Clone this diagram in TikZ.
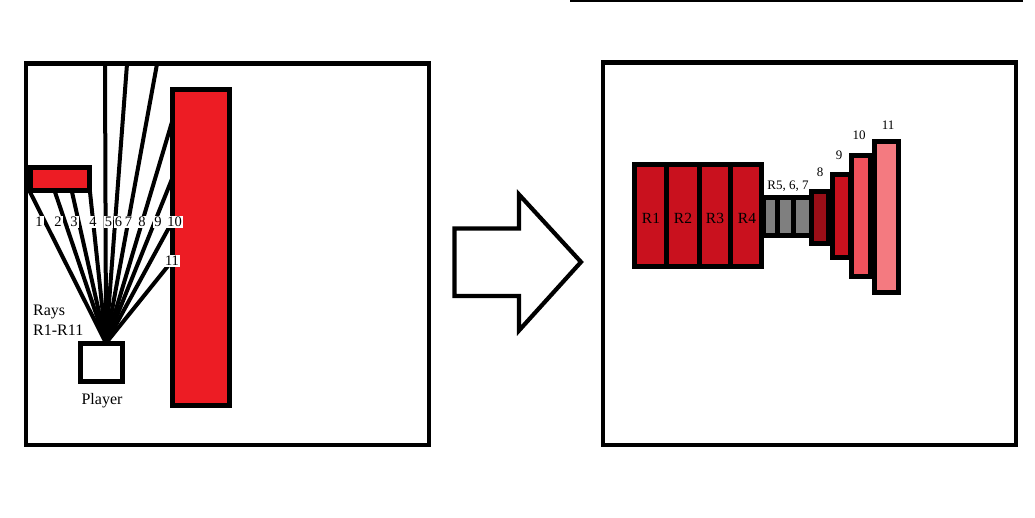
\documentclass[tikz,border=0pt]{standalone}
\usepackage{fontspec}
\setmainfont{Liberation Serif}
\definecolor{pred}{RGB}{237,28,36}
\definecolor{cellred}{RGB}{201,17,30}
\definecolor{darkred}{RGB}{153,14,23}
\definecolor{midpink}{RGB}{240,82,92}
\definecolor{lightpink}{RGB}{244,122,128}
\definecolor{cellgray}{RGB}{127,127,127}
\begin{document}
\begin{tikzpicture}[x=1pt,y=-1pt,
  panel/.style={draw=black,line width=4.6pt},
  block/.style={draw=black,line width=5pt},
  ray/.style={draw=black,line width=4pt},
  lbl/.style={fill=white,inner sep=1.2pt,font=\fontsize{14.5}{15}\selectfont},
  txt/.style={inner sep=0pt,font=\fontsize{16}{18}\selectfont},
  rtxt/.style={inner sep=0pt,font=\fontsize{15.5}{17}\selectfont},
  small/.style={inner sep=0pt,font=\fontsize{13}{14}\selectfont}]
\useasboundingbox (0,0) rectangle (1035,517);
% top line
\draw[line width=2.2pt] (570,1) -- (1023,1);
% left panel
\draw[panel] (26,63.5) rectangle (429,445);
% rays
\coordinate (o) at (106,343);
\coordinate (e1) at (30,192);
\coordinate (e2) at (55,192);
\coordinate (e3) at (72,192);
\coordinate (e4) at (90,192);
\coordinate (e5) at (105,64);
\coordinate (e6) at (127,64);
\coordinate (e7) at (157,64);
\coordinate (e8) at (172,122);
\coordinate (e9) at (172,179);
\coordinate (e10) at (172,222);
\coordinate (e11) at (172,261);
\foreach \i in {1,...,11} {\draw[ray] (o) -- (e\i);}
% obstacles
\draw[block,fill=pred] (30.5,167.5) rectangle (89.5,190.5);
\draw[block,fill=pred] (172.5,89.8) rectangle (229.5,405.5);
% player
\draw[block,fill=white] (80,343) rectangle (122,381);
% ray labels
\node[lbl] (l1) at (39,222) {1};
\node[lbl] (l2) at (58,222) {2};
\node[lbl] (l3) at (74,222) {3};
\node[lbl] (l4) at (93,222) {4};
\node[lbl] (l5) at (108.5,222) {5};
\node[lbl] (l6) at (118.5,222) {6};
\node[lbl] (l7) at (128.5,222) {7};
\node[lbl] (l8) at (142,222) {8};
\node[lbl] (l9) at (158,222) {9};
\node[lbl] (l10) at (174.5,222) {10};
\node[lbl] (l11) at (172,261) {11};
\node[txt,anchor=west] (rays) at (33,312) {Rays};
\node[txt,anchor=west] (rr) at (33,330) {R1-R11};
\node[txt] (plabel) at (102,401) {Player};
% big arrow
\draw[line width=4.2pt,line join=miter,fill=white]
  (454.5,228.5) -- (519,228.5) -- (519,194.5) -- (581,262) -- (519,330.5) -- (519,296) -- (454.5,296) -- cycle;
% right panel
\draw[panel] (603,62.5) rectangle (1016,445);
% R1-R4
\draw[block,fill=cellred] (634.5,164.5) rectangle (666.5,266.5);
\draw[block,fill=cellred] (666.5,164.5) rectangle (699.5,266.5);
\draw[block,fill=cellred] (699.5,164.5) rectangle (730,266.5);
\draw[block,fill=cellred] (730,164.5) rectangle (761.5,266.5);
\node[rtxt] (r1) at (651,218) {R1};
\node[rtxt] (r2) at (683,218) {R2};
\node[rtxt] (r3) at (715,218) {R3};
\node[rtxt] (r4) at (747,218) {R4};
% R5-7
\draw[block,fill=cellgray] (763,197.5) rectangle (777.5,235.5);
\draw[block,fill=cellgray] (777.5,197.5) rectangle (793.5,235.5);
\draw[block,fill=cellgray] (793.5,197.5) rectangle (811.5,235.5);
\node[small] (r567) at (788,186) {R5, 6, 7};
% 8-11
\draw[block,fill=darkred] (811.5,191.5) rectangle (828,243.5);
\draw[block,fill=cellred] (832.5,174.5) rectangle (850,257);
\draw[block,fill=midpink] (851.5,155.5) rectangle (870,276);
\draw[block,fill=lightpink] (874.5,141.5) rectangle (898.5,292);
\node[small] (n8) at (820,172) {8};
\node[small] (n9) at (839,155) {9};
\node[small] (n10) at (859,135) {10};
\node[small] (n11) at (888,125) {11};
\end{tikzpicture}
\end{document}
